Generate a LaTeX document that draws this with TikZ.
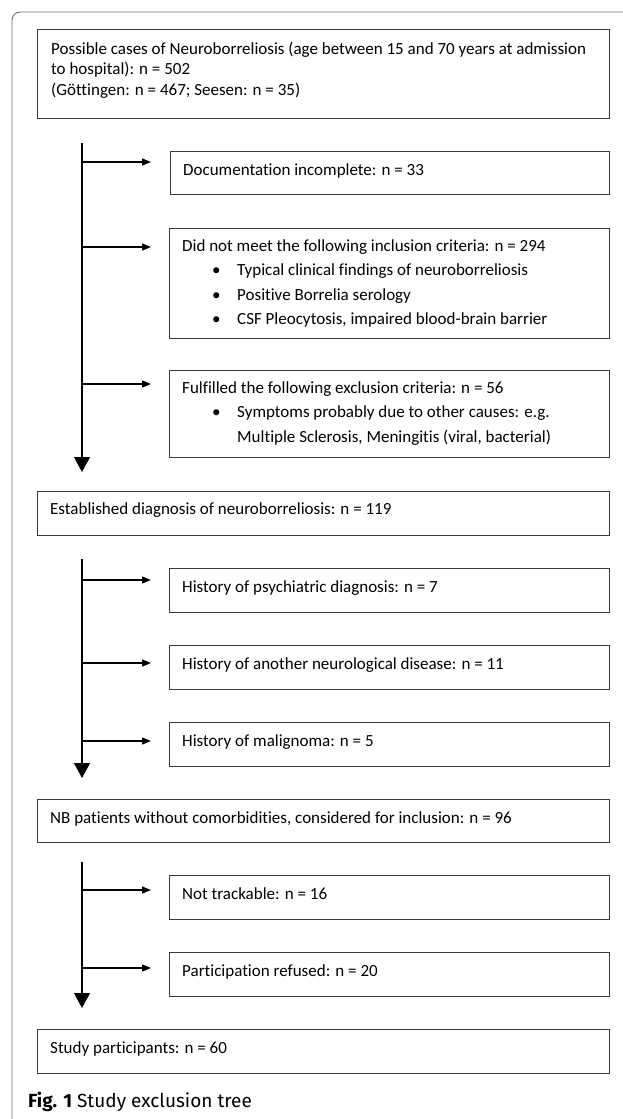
\documentclass[tikz,border=0pt]{standalone}
\usepackage{fontspec}
\setmainfont{Carlito}[Ligatures={NoCommon}]
\newfontfamily\capfont{Fira Sans}
\usetikzlibrary{arrows.meta}
\definecolor{boxgray}{HTML}{3A3A3A}
\definecolor{framegray}{HTML}{707070}
\newcommand\bul{\hspace*{30pt}\makebox[25pt][l]{\textbullet}}
\newcommand\ind{\hspace*{55pt}}
\tikzset{
  mainbox/.style={draw=boxgray, line width=0.9pt, anchor=north west, inner sep=0pt, minimum width=572pt, minimum height=#1},
  sidebox/.style={draw=boxgray, line width=0.9pt, anchor=north west, inner sep=0pt, minimum width=440pt, minimum height=#1},
  txt/.style={anchor=base west, inner sep=0pt, font=\fontsize{17}{24.6}\selectfont},
  txtone/.style={anchor=base west, inner sep=0pt, font=\fontsize{17}{20.5}\selectfont},
  vline/.style={line width=1.3pt, -{Triangle[length=15pt,width=16pt]}},
  harrow/.style={line width=1.3pt, -{Triangle[length=9pt,width=7pt]}},
  frame/.style={draw=framegray, line width=0.9pt, rounded corners=8pt}
}
\begin{document}
\begin{tikzpicture}[x=1pt,y=-1pt]
\path[use as bounding box] (0,0) rectangle (623,1119);
\begin{scope}
\clip (0,0) rectangle (623,1119);
\draw[frame] (12,1140) -- (12,12) -- (650,12);
\end{scope}

% boxes
\node[mainbox=89pt] (b1) at (37,29) {};
\node[sidebox=43pt, minimum width=439pt] (doc) at (170,151) {};
\node[sidebox=110pt] (dnm) at (169,228) {};
\node[sidebox=87pt] (ful) at (169,370) {};
\node[mainbox=44pt] (est) at (37,491) {};
\node[sidebox=44pt] (psy) at (169,568) {};
\node[sidebox=44pt] (neu) at (169,645) {};
\node[sidebox=44pt] (mal) at (169,722) {};
\node[mainbox=43pt] (nb) at (37,799) {};
\node[sidebox=44pt] (ntr) at (169,875) {};
\node[sidebox=44pt] (par) at (169,952) {};
\node[mainbox=44pt] (stu) at (37,1029) {};

% texts
\node[txtone] (t1) at (51,54) {\begin{tabular}[t]{@{}l@{}}Possible cases of Neuroborreliosis (age between 15 and 70 years at admission\\to hospital): n = 502\\(Göttingen: n = 467; Seesen: n = 35)\end{tabular}};
\node[txt] (tdoc) at (183,175) {Documentation incomplete: n = 33};
\node[txt] (tdnm) at (182,251) {\begin{tabular}[t]{@{}l@{}}Did not meet the following inclusion criteria: n = 294\\\bul Typical clinical findings of neuroborreliosis\\\bul Positive Borrelia serology\\\bul CSF Pleocytosis, impaired blood-brain barrier\end{tabular}};
\node[txt] (tful) at (182,393) {\begin{tabular}[t]{@{}l@{}}Fulfilled the following exclusion criteria: n = 56\\\bul Symptoms probably due to other causes: e.g.\\\ind Multiple Sclerosis, Meningitis (viral, bacterial)\end{tabular}};
\node[txt] (test) at (50,514) {Established diagnosis of neuroborreliosis: n = 119};
\node[txt] (tpsy) at (182,592) {History of psychiatric diagnosis: n = 7};
\node[txt] (tneu) at (182,669) {History of another neurological disease: n = 11};
\node[txt] (tmal) at (182,746) {History of malignoma: n = 5};
\node[txt] (tnb) at (50,823) {NB patients without comorbidities, considered for inclusion: n = 96};
\node[txt] (tntr) at (182,899) {Not trackable: n = 16};
\node[txt] (tpar) at (182,976) {Participation refused: n = 20};
\node[txt] (tstu) at (50,1053) {Study participants: n = 60};
\node[anchor=base west, inner sep=0pt, font=\capfont\fontsize{19}{22}\selectfont] (cap) at (28,1107) {\textbf{Fig. 1} Study exclusion tree};

% connectors section 1
\coordinate (v1) at (82,143);
\coordinate (a11) at (82,162);
\coordinate (a12) at (82,247);
\coordinate (a13) at (82,384);
\draw[vline, shorten >=19pt] (v1) -- (v1 |- est.north);
\draw[harrow, shorten >=19pt] (a11) -- (a11 -| doc.west);
\draw[harrow, shorten >=18pt] (a12) -- (a12 -| dnm.west);
\draw[harrow, shorten >=18pt] (a13) -- (a13 -| ful.west);

% section 2
\coordinate (v2) at (82,559);
\coordinate (a21) at (82,580);
\coordinate (a22) at (82,663);
\coordinate (a23) at (82,741);
\draw[vline, shorten >=21pt] (v2) -- (v2 |- nb.north);
\draw[harrow, shorten >=18pt] (a21) -- (a21 -| psy.west);
\draw[harrow, shorten >=18pt] (a22) -- (a22 -| neu.west);
\draw[harrow, shorten >=18pt] (a23) -- (a23 -| mal.west);

% section 3
\coordinate (v3) at (82,862);
\coordinate (a31) at (82,890);
\coordinate (a32) at (82,968);
\draw[vline, shorten >=21pt] (v3) -- (v3 |- stu.north);
\draw[harrow, shorten >=18pt] (a31) -- (a31 -| ntr.west);
\draw[harrow, shorten >=18pt] (a32) -- (a32 -| par.west);
\end{tikzpicture}
\end{document}
